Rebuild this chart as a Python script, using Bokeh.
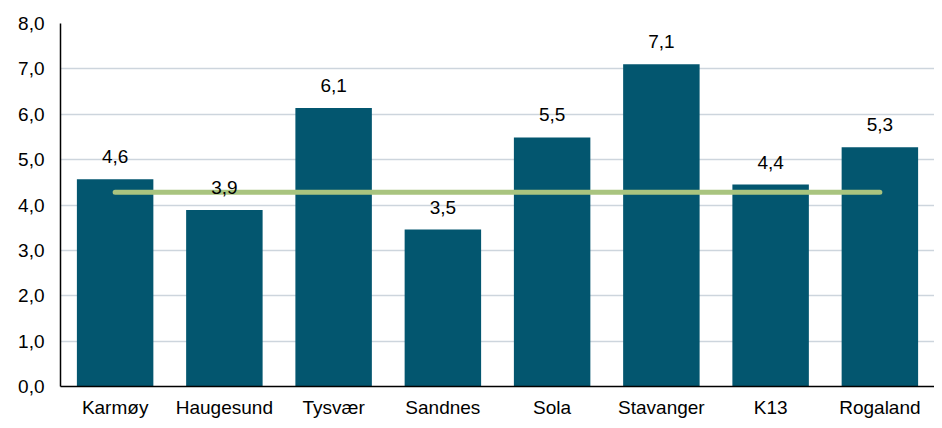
from bokeh.plotting import figure
from bokeh.models import ColumnDataSource, LabelSet, FixedTicker, CustomJSTickFormatter, FactorRange, Range1d
from bokeh.core.properties import value
from bokeh.embed import file_html
from bokeh.resources import INLINE

categories = ["Karmøy", "Haugesund", "Tysvær", "Sandnes", "Sola", "Stavanger", "K13", "Rogaland"]
values = [4.57, 3.89, 6.14, 3.46, 5.49, 7.10, 4.45, 5.27]
labels = ["4,6", "3,9", "6,1", "3,5", "5,5", "7,1", "4,4", "5,3"]
average = [4.28] * len(categories)
y_ticks = [0, 1, 2, 3, 4, 5, 6, 7, 8]

FONT = "Liberation Sans"

src = ColumnDataSource(dict(cat=categories, val=values, lab=labels, avg=average))

p = figure(x_range=FactorRange(*categories, range_padding=0), y_range=Range1d(0, 8),
           width=934, height=420, output_backend="svg", toolbar_location=None,
           min_border_left=60, min_border_right=0, min_border_top=23, min_border_bottom=29)
p.outline_line_color = None
p.background_fill_color = "white"

p.vbar(x="cat", top="val", width=0.7, source=src, fill_color="#03566f", line_color=None)
p.line(x="cat", y="avg", source=src, line_color="#a9c47f", line_width=5, line_cap="round")

ls = LabelSet(x="cat", y="val", text="lab", source=src, text_align="center", text_baseline="bottom",
              y_offset=16, text_font=value(FONT), text_font_size="19px", text_color="black")
p.add_layout(ls)

p.xgrid.grid_line_color = None
p.ygrid.grid_line_color = "#cdd5dd"
p.ygrid.grid_line_width = 1.5
p.yaxis.ticker = FixedTicker(ticks=y_ticks)
p.yaxis.formatter = CustomJSTickFormatter(code="return tick.toFixed(1).replace('.', ',');")
for ax in (p.xaxis, p.yaxis):
    ax.axis_line_color = "black"
    ax.axis_line_width = 1.5
    ax.major_tick_line_color = None
    ax.minor_tick_line_color = None
    ax.major_label_text_font = FONT
    ax.major_label_text_font_size = "19px"
    ax.major_label_text_color = "black"
p.xaxis.major_label_standoff = 4
p.yaxis.major_label_standoff = 10

open("out.html", "w").write(file_html(p, INLINE))
